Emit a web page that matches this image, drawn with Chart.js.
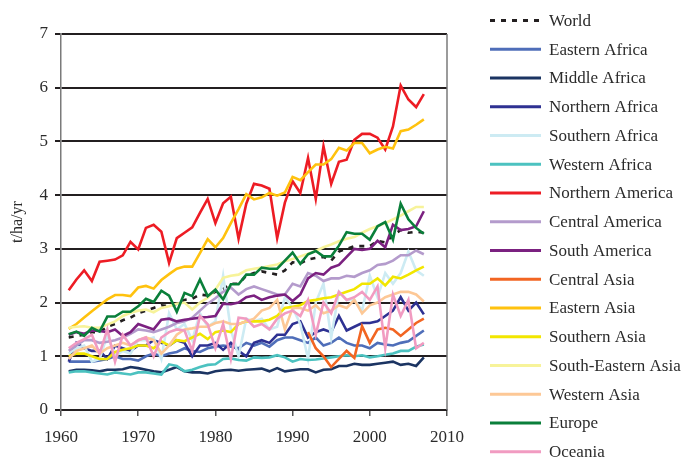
<!DOCTYPE html>
<html>
<head>
<meta charset="utf-8">
<script src="https://cdn.jsdelivr.net/npm/chart.js@4"></script>
<style>
  html, body { margin: 0; padding: 0; background: #fff; }
  #wrap { width: 683px; height: 458px; }
</style>
</head>
<body>
<div id="wrap"><canvas id="myChart" width="683" height="458"></canvas></div>
<script>
// years 1961..2007
const years = [1961,1962,1963,1964,1965,1966,1967,1968,1969,1970,1971,1972,1973,1974,1975,1976,1977,1978,1979,1980,
  1981,1982,1983,1984,1985,1986,1987,1988,1989,1990,1991,1992,1993,1994,1995,1996,1997,1998,1999,2000,
  2001,2002,2003,2004,2005,2006,2007];

const seriesNames = ['World','Eastern Africa','Middle Africa','Northern Africa','Southern Africa','Western Africa',
  'Northern America','Central America','South America','Central Asia','Eastern Asia','Southern Asia',
  'South-Eastern Asia','Western Asia','Europe','Oceania'];

const world = [1.35,1.38,1.40,1.45,1.45,1.55,1.60,1.67,1.72,1.80,1.85,1.90,1.95,1.93,1.98,2.05,2.07,2.15,2.13,2.20,
  2.25,2.35,2.35,2.50,2.55,2.58,2.55,2.52,2.60,2.75,2.73,2.80,2.83,2.85,2.78,2.95,3.00,3.05,3.05,3.05,
  3.15,3.12,3.25,3.35,3.30,3.32,3.30];
const easternAfrica = [0.90,0.90,0.90,0.90,0.92,0.95,1.00,0.95,0.95,0.92,1.00,1.05,1.00,1.05,1.08,1.15,1.10,1.08,1.15,1.18,
  1.20,1.18,1.15,1.25,1.20,1.25,1.18,1.30,1.35,1.35,1.30,1.25,1.35,1.20,1.25,1.35,1.25,1.20,1.20,1.15,
  1.25,1.22,1.20,1.25,1.28,1.38,1.48];
const middleAfrica = [0.72,0.75,0.75,0.74,0.72,0.75,0.75,0.76,0.80,0.78,0.75,0.72,0.70,0.75,0.80,0.72,0.70,0.70,0.68,0.72,
  0.74,0.75,0.73,0.75,0.76,0.77,0.72,0.78,0.72,0.74,0.76,0.76,0.70,0.75,0.76,0.82,0.82,0.86,0.84,0.84,
  0.86,0.88,0.90,0.84,0.86,0.82,0.98];
const northernAfrica = [0.90,1.25,1.15,1.10,1.10,0.95,1.20,1.15,1.10,1.20,1.20,1.30,1.25,1.20,1.30,1.25,1.00,1.20,1.20,1.25,
  1.12,1.25,1.10,1.00,1.25,1.30,1.25,1.40,1.40,1.60,1.65,1.35,1.45,1.50,1.45,1.75,1.48,1.55,1.62,1.62,
  1.65,1.75,1.85,2.10,1.85,2.00,1.78];
const southernAfrica = [1.05,1.15,1.20,0.90,0.95,1.40,1.00,1.10,1.05,1.30,1.30,1.35,0.95,1.80,1.50,1.60,1.30,1.80,1.55,1.65,
  2.50,1.50,1.00,1.70,1.65,1.70,1.50,1.55,2.10,1.90,1.60,0.95,2.00,2.35,1.35,2.20,2.05,2.05,1.85,2.50,
  2.10,2.55,2.35,2.55,2.95,2.60,2.50];
const westernAfrica = [0.70,0.72,0.72,0.70,0.68,0.66,0.70,0.68,0.66,0.70,0.70,0.68,0.66,0.85,0.82,0.72,0.75,0.80,0.84,0.85,
  0.95,0.96,0.93,0.92,0.98,0.97,0.98,1.02,0.98,0.90,0.95,0.93,0.94,0.96,0.98,1.00,1.02,1.00,1.02,0.98,
  1.00,1.03,1.05,1.10,1.10,1.18,1.22];
const northernAmerica = [2.23,2.43,2.60,2.40,2.76,2.78,2.80,2.88,3.13,2.99,3.39,3.45,3.32,2.74,3.20,3.30,3.40,3.67,3.93,3.48,
  3.85,3.97,3.19,3.84,4.21,4.18,4.12,3.20,3.86,4.26,4.04,4.69,3.93,4.91,4.21,4.62,4.66,5.03,5.14,5.14,
  5.07,4.85,5.28,6.04,5.78,5.64,5.88];
const centralAmerica = [1.10,1.20,1.30,1.30,1.25,1.27,1.30,1.35,1.42,1.50,1.48,1.45,1.50,1.55,1.62,1.65,1.72,1.85,1.98,2.08,
  2.20,2.28,2.15,2.25,2.30,2.25,2.20,2.15,2.15,2.35,2.30,2.55,2.50,2.40,2.45,2.45,2.50,2.48,2.55,2.60,
  2.70,2.72,2.78,2.88,2.88,2.97,2.90];
const southAmerica = [1.40,1.45,1.42,1.48,1.47,1.45,1.50,1.38,1.45,1.60,1.55,1.50,1.68,1.70,1.65,1.68,1.70,1.72,1.73,1.75,
  1.98,1.97,2.00,2.10,2.13,2.05,2.10,2.13,2.15,2.03,2.15,2.45,2.55,2.52,2.65,2.70,2.85,3.00,2.98,3.00,
  3.15,3.03,3.45,3.35,3.37,3.42,3.70];
const centralAsia = [null,null,null,null,null,null,null,null,null,null,null,null,null,null,null,null,null,null,null,null,
  null,null,null,null,null,null,null,null,null,null,null,1.45,1.15,1.00,0.80,0.95,1.10,0.97,1.56,1.25,
  1.50,1.53,1.50,1.38,1.50,1.62,1.70];
const easternAsia = [1.51,1.60,1.72,1.84,1.95,2.06,2.14,2.14,2.12,2.28,2.31,2.26,2.42,2.53,2.63,2.67,2.67,2.92,3.18,3.03,
  3.20,3.48,3.74,4.02,3.92,3.96,4.04,3.99,4.05,4.34,4.28,4.43,4.57,4.57,4.67,4.88,4.83,4.97,4.97,4.78,
  4.85,4.90,4.87,5.19,5.22,5.31,5.41];
const southernAsia = [1.00,1.05,1.05,1.00,0.95,0.95,1.08,1.12,1.15,1.20,1.20,1.15,1.28,1.20,1.30,1.28,1.35,1.42,1.32,1.45,
  1.48,1.45,1.60,1.65,1.65,1.65,1.68,1.75,1.90,1.92,1.95,2.03,2.05,2.08,2.10,2.15,2.20,2.25,2.35,2.35,
  2.45,2.32,2.48,2.45,2.52,2.60,2.67];
const southEasternAsia = [1.53,1.55,1.56,1.53,1.53,1.59,1.65,1.75,1.81,1.85,1.87,1.82,1.90,1.93,1.98,2.00,1.87,2.00,2.09,2.24,
  2.46,2.50,2.52,2.60,2.63,2.65,2.68,2.71,2.77,2.81,2.86,2.91,2.96,3.03,3.08,3.14,3.19,3.22,3.30,3.37,
  3.42,3.48,3.55,3.62,3.70,3.78,3.78];
const westernAsia = [0.95,1.10,1.15,1.20,1.05,1.15,1.20,1.25,1.20,1.30,1.35,1.30,1.05,1.20,1.40,1.50,1.52,1.55,1.55,1.62,
  1.65,1.60,1.60,1.65,1.70,1.85,1.90,2.05,1.50,1.90,1.90,1.85,1.95,1.80,1.85,1.95,1.90,2.05,1.80,1.95,
  2.00,2.10,2.15,2.20,2.20,2.15,2.02];
const europe = [1.41,1.46,1.38,1.53,1.46,1.74,1.74,1.83,1.83,1.93,2.07,2.01,2.22,2.13,1.83,2.18,2.12,2.43,2.12,2.24,
  2.06,2.34,2.34,2.52,2.52,2.65,2.63,2.63,2.78,2.93,2.72,2.90,2.96,2.86,2.86,3.06,3.31,3.28,3.28,3.17,
  3.42,3.50,3.17,3.84,3.55,3.39,3.28];
const oceania = [1.15,1.25,1.32,1.40,1.05,1.50,0.90,1.40,1.20,1.30,1.35,1.00,1.35,1.45,1.50,1.48,1.10,1.75,1.60,1.15,
  1.60,0.95,1.72,1.70,1.55,1.60,1.50,1.70,1.80,1.85,1.75,2.05,1.40,2.00,1.80,2.20,2.05,2.10,2.20,2.05,
  2.30,1.15,2.15,1.75,2.05,1.15,1.25];

const seriesValues = [world, easternAfrica, middleAfrica, northernAfrica, southernAfrica, westernAfrica,
  northernAmerica, centralAmerica, southAmerica, centralAsia, easternAsia, southernAsia,
  southEasternAsia, westernAsia, europe, oceania];

const seriesColors = ['#231f20','#4f6eb9','#1b3462','#2e3192','#cdebf3','#4cc2c0',
  '#ed1c24','#b49bcc','#7b2180','#f26522','#ffc20e','#f2e600',
  '#f7f39a','#fdc896','#0a7f3a','#f19bc1'];

const textColor = '#2b2b2b';
const serif = '"Liberation Serif", "Times New Roman", serif';

// legend drawn on the right, plus the grey right frame line
const legendPlugin = {
  id: 'sideLegend',
  afterDraw(chart) {
    const ctx = chart.ctx;
    const area = chart.chartArea;
    ctx.save();
    ctx.strokeStyle = '#7a7a7a';
    ctx.lineWidth = 1.5;
    ctx.beginPath();
    ctx.moveTo(area.right, area.top);
    ctx.lineTo(area.right, area.bottom);
    ctx.stroke();

    ctx.font = '17px ' + serif;
    ctx.textBaseline = 'middle';
    ctx.fillStyle = textColor;
    seriesNames.forEach((name, i) => {
      const y = 20.5 + i * 28.75;
      ctx.strokeStyle = seriesColors[i];
      ctx.lineWidth = 3;
      ctx.setLineDash(i === 0 ? [5, 6] : []);
      ctx.beginPath();
      ctx.moveTo(490, y);
      ctx.lineTo(541, y);
      ctx.stroke();
      ctx.setLineDash([]);
      ctx.fillText(name, 549, y + 1);
    });
    ctx.restore();
  }
};

const datasets = seriesNames.map((name, i) => ({
  label: name,
  data: years.map((yr, j) => ({ x: yr, y: seriesValues[i][j] })),
  borderColor: seriesColors[i],
  borderWidth: 2.6,
  borderDash: i === 0 ? [5, 6] : [],
  pointRadius: 0,
  tension: 0,
  fill: false,
  spanGaps: false,
  order: seriesNames.length - i
}));

new Chart(document.getElementById('myChart').getContext('2d'), {
  type: 'line',
  data: { datasets },
  options: {
    responsive: false,
    animation: false,
    layout: { padding: { top: 34, right: 236, left: 0, bottom: 0 } },
    plugins: { legend: { display: false }, tooltip: { enabled: false } },
    scales: {
      x: {
        type: 'linear',
        min: 1960,
        max: 2010,
        ticks: { stepSize: 10, color: textColor, font: { family: serif, size: 17 }, padding: 11,
          callback: v => String(v), maxRotation: 0 },
        grid: { display: true, drawOnChartArea: false, drawTicks: true, tickLength: 6, color: '#555', lineWidth: 1.5 },
        border: { display: true, color: '#231f20', width: 2 },
        afterFit(s) { s.height = 48; }
      },
      y: {
        min: 0,
        max: 7,
        ticks: { stepSize: 1, color: textColor, font: { family: serif, size: 17 }, padding: 7 },
        grid: { color: '#231f20', lineWidth: 2, tickLength: 6, drawTicks: true },
        border: { display: true, color: '#7a7a7a', width: 1.5 },
        title: { display: true, text: 't/ha/yr', color: textColor, font: { family: serif, size: 16 }, padding: { top: 8 } },
        afterFit(s) { s.width = 61; }
      }
    }
  },
  plugins: [legendPlugin]
});
</script>
</body>
</html>
